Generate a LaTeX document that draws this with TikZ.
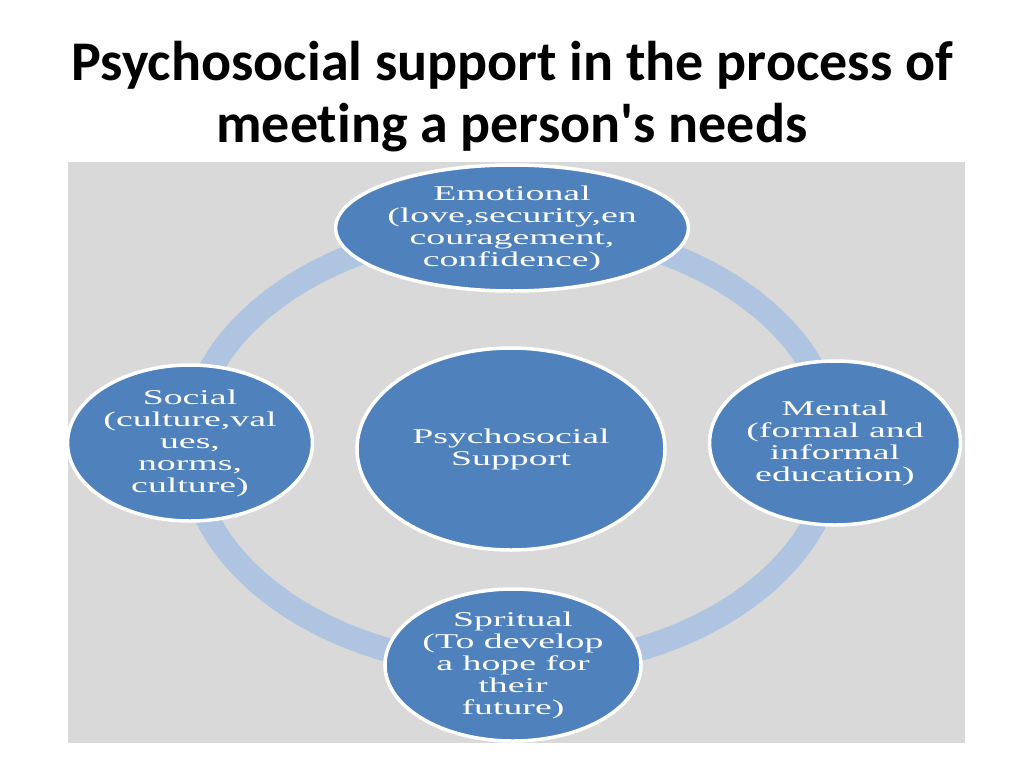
\documentclass[tikz,border=0pt]{standalone}
\usepackage{fontspec}
\setmainfont{Carlito}[Ligatures=NoCommon]
\newfontfamily\diagfont[FakeStretch=1.8]{Liberation Serif}
\usetikzlibrary{shapes.geometric}
\definecolor{panelgray}{HTML}{D9D9D9}
\definecolor{ringblue}{HTML}{AFC4E0}
\definecolor{needblue}{HTML}{4F81BD}
\begin{document}
\begin{tikzpicture}[x=1pt,y=-1pt]
        \tikzset{
            need/.style={ellipse, fill=needblue, draw=white, line width=3.5pt,
                inner sep=0pt, text=white, align=center,
                font=\diagfont\fontsize{21}{22}\selectfont},
            title_text/.style={font=\bfseries\fontsize{56}{62}\selectfont, align=center}
        }
        \useasboundingbox (0,0) rectangle (1024,768);
        \fill[white] (0,0) rectangle (1024,768);
        \node[title_text] (title) at (512,97) {Psychosocial support in the process of\\meeting a person\textquotesingle s needs};
        \fill[panelgray] (68,162) rectangle (965,743);

        % ring behind the needs
        \draw[ringblue, line width=24pt] (512,447) ellipse (322 and 220);

        \node[need, minimum width=334, minimum height=126] (emotional) at (512,228)
            {Emotional\\(love,security,en\\couragement,\\confidence)};
        \node[need, minimum width=240, minimum height=164] (mental) at (835,443)
            {Mental\\(formal and\\informal\\education)};
        \node[need, minimum width=224, minimum height=152] (spiritual) at (513,665)
            {Spritual\\(To develop\\a hope for\\their\\future)};
        \node[need, minimum width=220, minimum height=156] (social) at (190,443)
            {Social\\(culture,val\\ues,\\norms,\\culture)};
        \node[need, minimum width=308, minimum height=202] (support) at (511,449)
            {Psychosocial\\Support};
    \end{tikzpicture}
\end{document}
